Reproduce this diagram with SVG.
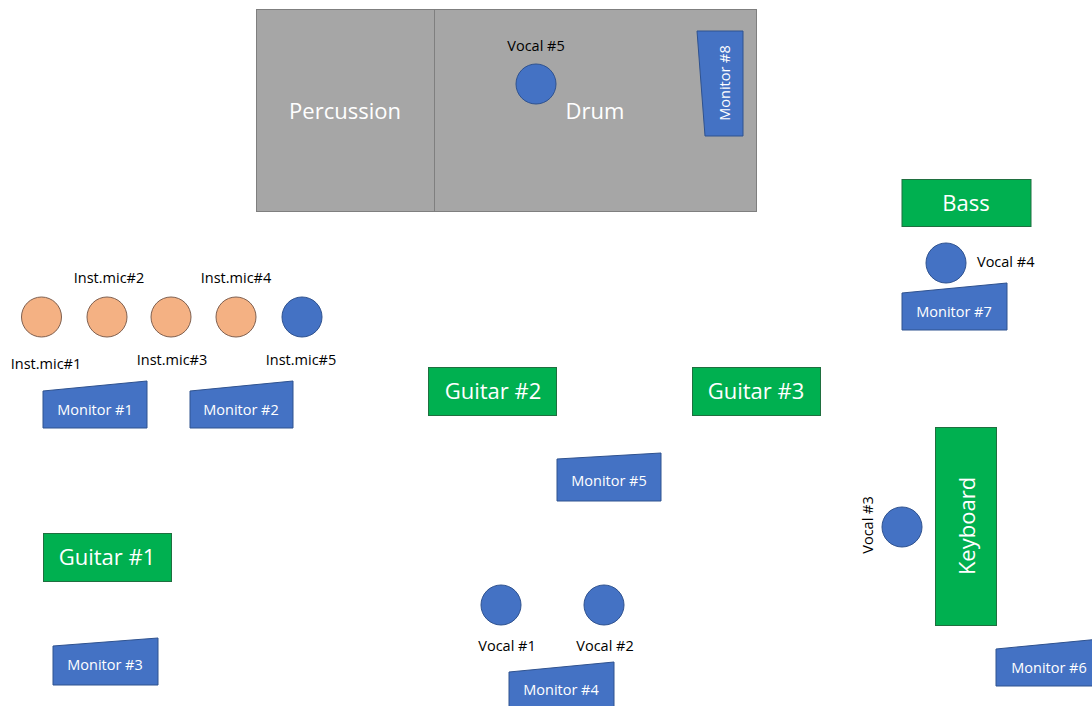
<svg xmlns="http://www.w3.org/2000/svg" width="1092" height="706" viewBox="0 0 1092 706">
<style>
.stage{fill:#a6a6a6;stroke:#7f7f7f;stroke-width:1}
.blue{fill:#4472c4;stroke:#2f528f;stroke-width:1}
.orange{fill:#f4b183;stroke:#7f6050;stroke-width:1}
.green{fill:#00b050;stroke:#1f6f3f;stroke-width:1}
.big{font-family:"Open Sans","Liberation Sans",sans-serif;font-size:22px;fill:#ffffff;text-anchor:middle;dominant-baseline:central}
.mon{font-family:"Open Sans","Liberation Sans",sans-serif;font-size:14.5px;fill:#ffffff;text-anchor:middle;dominant-baseline:central}
.lbl{font-family:"Open Sans","Liberation Sans",sans-serif;font-size:14.5px;fill:#000000;text-anchor:middle;dominant-baseline:central}
</style>
<rect width="1092" height="706" fill="#ffffff"/>
<g id="stage">
<rect class="stage" x="256.5" y="9.5" width="500" height="202"/>
<line x1="434.5" y1="9.5" x2="434.5" y2="211.5" stroke="#7f7f7f" stroke-width="1"/>
</g>
<g id="percussion"><text class="big" x="345" y="110">Percussion</text></g>
<g id="drum"><text class="big" x="595" y="110">Drum</text></g>
<g id="vocal5"><circle class="blue" cx="536" cy="84" r="20"/><text class="lbl" x="536" y="45">Vocal #5</text></g>
<g id="monitor8"><polygon class="blue" points="697,31 743,31 743,136 705,136"/><text class="mon" transform="translate(724,83) rotate(-90)">Monitor #8</text></g>

<g id="instmic1"><circle class="orange" cx="41.5" cy="317" r="20"/><text class="lbl" x="46" y="363">Inst.mic#1</text></g>
<g id="instmic2"><circle class="orange" cx="107" cy="317" r="20"/><text class="lbl" x="109" y="277">Inst.mic#2</text></g>
<g id="instmic3"><circle class="orange" cx="171" cy="317" r="20"/><text class="lbl" x="172" y="359">Inst.mic#3</text></g>
<g id="instmic4"><circle class="orange" cx="236" cy="317" r="20"/><text class="lbl" x="236" y="277">Inst.mic#4</text></g>
<g id="instmic5"><circle class="blue" cx="302" cy="317" r="20"/><text class="lbl" x="301" y="359">Inst.mic#5</text></g>

<g id="monitor1"><polygon class="blue" points="43,391 147,381 147,428 43,428"/><text class="mon" x="95" y="409">Monitor #1</text></g>
<g id="monitor2"><polygon class="blue" points="190,391 293,381 293,428 190,428"/><text class="mon" x="241" y="409">Monitor #2</text></g>

<g id="bass"><rect class="green" x="902" y="179.5" width="129" height="47"/><text class="big" x="966" y="202">Bass</text></g>
<g id="vocal4"><circle class="blue" cx="946" cy="263" r="20"/><text class="lbl" x="977" y="261" style="text-anchor:start">Vocal #4</text></g>
<g id="monitor7"><polygon class="blue" points="902,293 1007,283 1007,330 902,330"/><text class="mon" x="954" y="311">Monitor #7</text></g>

<g id="guitar2"><rect class="green" x="428.5" y="367.5" width="128" height="48"/><text class="big" x="493" y="390">Guitar #2</text></g>
<g id="guitar3"><rect class="green" x="692.5" y="367.5" width="128" height="48"/><text class="big" x="756" y="390">Guitar #3</text></g>
<g id="monitor5"><polygon class="blue" points="557,459 661,453 661,501 557,501"/><text class="mon" x="609" y="480">Monitor #5</text></g>

<g id="keyboard"><rect class="green" x="935.5" y="427.5" width="61" height="198"/><text class="big" transform="translate(966,526) rotate(-90)">Keyboard</text></g>
<g id="vocal3"><circle class="blue" cx="902" cy="527" r="20"/><text class="lbl" transform="translate(867,525) rotate(-90)">Vocal #3</text></g>
<g id="monitor6"><polygon class="blue" points="996,649 1100,639 1100,686 996,686"/><text class="mon" x="1049" y="667">Monitor #6</text></g>

<g id="guitar1"><rect class="green" x="43.5" y="533.5" width="128" height="48"/><text class="big" x="107" y="556">Guitar #1</text></g>
<g id="monitor3"><polygon class="blue" points="53,646 158,638 158,685 53,685"/><text class="mon" x="105" y="664">Monitor #3</text></g>

<g id="vocal1"><circle class="blue" cx="501" cy="605" r="20"/><text class="lbl" x="507" y="645">Vocal #1</text></g>
<g id="vocal2"><circle class="blue" cx="604" cy="605" r="20"/><text class="lbl" x="605" y="645">Vocal #2</text></g>
<g id="monitor4"><polygon class="blue" points="509,672 614,662 614,710 509,710"/><text class="mon" x="561" y="689">Monitor #4</text></g>
<g id="connectors"></g>
</svg>
